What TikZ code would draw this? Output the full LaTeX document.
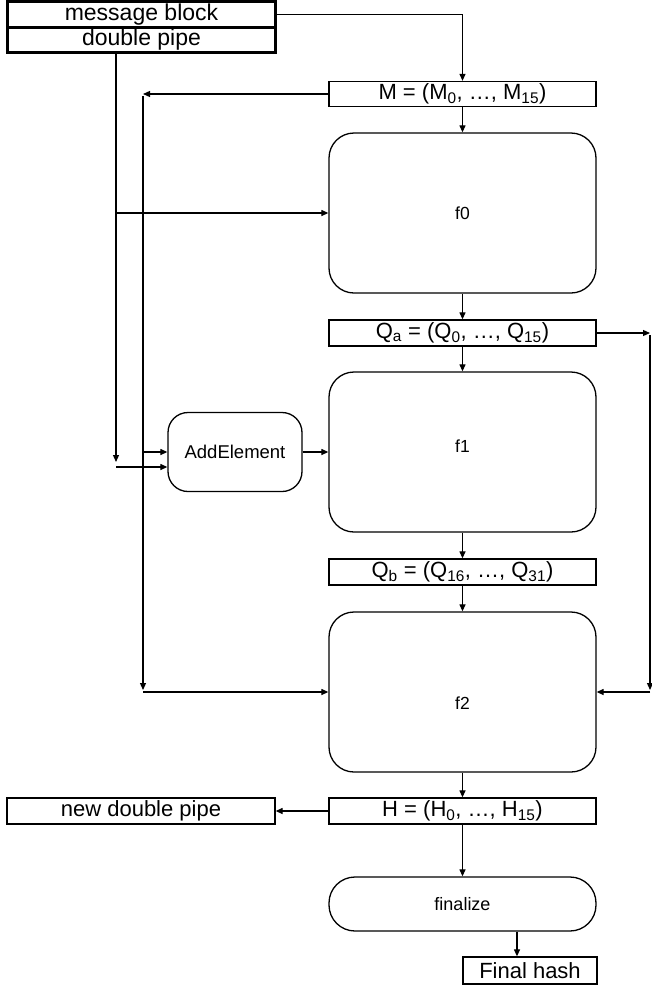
\documentclass[tikz,border=0pt]{standalone}
\usepackage{fontspec}
\setmainfont{Liberation Sans}
\usetikzlibrary{arrows.meta}
\begin{document}
\begin{tikzpicture}[x=1pt,y=-1pt,
  box/.style={draw, line width=1.3pt, minimum width=267pt, minimum height=26pt, inner sep=0pt, font=\fontsize{22}{24}\selectfont},
  fbox/.style={draw, line width=1.3pt, rounded corners=25pt, minimum width=267pt, minimum height=160pt, inner sep=0pt, font=\fontsize{17.5}{20}\selectfont},
  flabel/.style={font=\fontsize{17.5}{20}\selectfont},
  topbox/.style={draw, line width=3pt, minimum width=268pt, inner sep=0pt, font=\fontsize{23}{25}\selectfont},
  conn/.style={line width=1.2pt, -{Triangle[length=7pt,width=6pt]}},
  plain/.style={line width=1.2pt}]
\useasboundingbox (0,0) rectangle (652,989);

% top boxes
\node[topbox, minimum height=26pt] (mb) at (141.5,14.5) {message block};
\node[topbox, minimum height=25pt] (dp) at (141.5,40) {double pipe};

% main column
\node[box, minimum height=25pt] (M) at (462.5,94) {M = (M\textsubscript{0}, …, M\textsubscript{15})};
\node[fbox] (f0) at (462.5,213) {f0};
\node[box] (Qa) at (462.5,333) {Q\textsubscript{a} = (Q\textsubscript{0}, …, Q\textsubscript{15})};
\node[fbox, label={[flabel, yshift=6pt]center:f1}] (f1) at (462.5,452) {};
\node[box] (Qb) at (462.5,572) {Q\textsubscript{b} = (Q\textsubscript{16}, …, Q\textsubscript{31})};
\node[fbox, label={[flabel, yshift=-11pt]center:f2}] (f2) at (462.5,692) {};
\node[box] (H) at (462.5,811) {H = (H\textsubscript{0}, …, H\textsubscript{15})};
\node[box, minimum width=268pt] (ndp) at (141,811) {new double pipe};
\node[draw, line width=1.3pt, rounded corners=26pt, minimum width=267pt, minimum height=54pt, inner sep=0pt, font=\fontsize{18}{20}\selectfont] (fin) at (462.5,904) {finalize};
\node[box, minimum width=134pt, minimum height=27pt] (fh) at (530,970.5) {Final hash};

% AddElement
\node[draw, line width=1.3pt, rounded corners=20pt, minimum width=134pt, minimum height=79pt, inner sep=0pt, font=\fontsize{18.5}{20}\selectfont] (add) at (235,452) {AddElement};

% helper coordinates
\coordinate (D) at (116,462);
\coordinate (Db) at (116,467);
\coordinate (L) at (143,96);
\coordinate (Lb) at (143,690);
\coordinate (R) at (650,335);
\coordinate (Rb) at (650,690);
\coordinate (FX) at (517,0);

% connectors
\draw[conn] (mb.east) -| (M.north);
\draw[conn] (M.south) -- (f0.north);
\draw[conn] (f0.south) -- (Qa.north);
\draw[conn] (Qa.south) -- (f1.north);
\draw[conn] (f1.south) -- (Qb.north);
\draw[conn] (Qb.south) -- (f2.north);
\draw[conn] (f2.south) -- (H.north);
\draw[conn] (H.south) -- (fin.north);
\draw[conn] (FX |- fin.south) -- (FX |- fh.north);
\draw[conn] (H.west) -- (ndp.east);

% double pipe line
\draw[conn] (D |- dp.south) -- (D);
\draw[conn] (D |- f0.west) -- (f0.west);
\draw[conn] (Db) -- (Db -| add.west);

% M line
\draw[conn] (M.west) -- (M.west -| L);
\draw[conn] (L) -- (Lb);
\draw[conn] (Lb |- f2.west) -- (f2.west);
\draw[conn] (L |- add.west) -- (add.west);
\draw[conn] (add.east) -- (f1.west);

% Qa line
\draw[conn] (Qa.east) -- (Qa.east -| R);
\draw[conn] (R) -- (Rb);
\draw[conn] (Rb |- f2.east) -- (f2.east);
\end{tikzpicture}
\end{document}
